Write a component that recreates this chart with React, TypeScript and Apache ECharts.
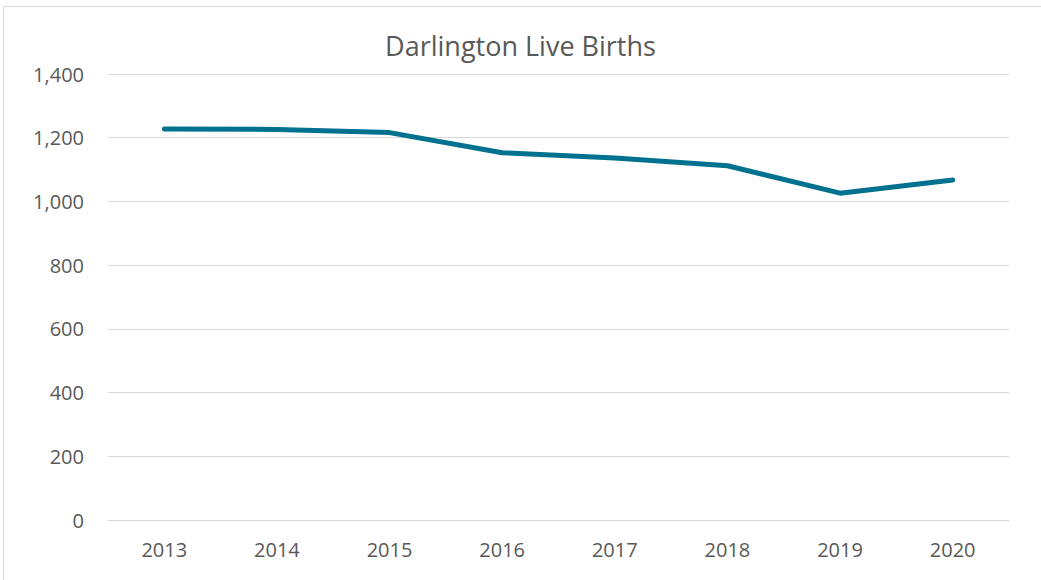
import React, { useEffect, useRef } from "react";
import * as echarts from "echarts";

const years = ["2013", "2014", "2015", "2016", "2017", "2018", "2019", "2020"];
const births = [1227, 1226, 1216, 1153, 1136, 1112, 1026, 1067];
const titleText = "Darlington Live Births";

const FONT = "Open Sans, Liberation Sans, sans-serif";

export default function App() {
  const ref = useRef<HTMLDivElement>(null);
  useEffect(() => {
    const chart = echarts.init(ref.current!, null, { renderer: "svg" });
    chart.setOption({
      animation: false,
      backgroundColor: "#ffffff",
      title: {
        text: titleText,
        left: "center",
        top: 27,
        textStyle: {
          fontFamily: FONT,
          fontSize: 27,
          fontWeight: "normal",
          color: "#595959",
        },
      },
      graphic: [
        {
          type: "rect",
          shape: { x: 3.5, y: 6.5, width: 1060, height: 600 },
          style: { fill: "none", stroke: "#d9d9d9", lineWidth: 1 },
          silent: true,
        },
      ],
      grid: { left: 108, right: 32, top: 74, bottom: 60, containLabel: false },
      xAxis: {
        type: "category",
        data: years,
        boundaryGap: true,
        axisLine: { show: true, lineStyle: { color: "#d9d9d9", width: 1 } },
        axisTick: { show: false },
        axisLabel: {
          color: "#595959",
          fontSize: 20,
          fontFamily: FONT,
          margin: 19,
        },
      },
      yAxis: {
        type: "value",
        min: 0,
        max: 1400,
        interval: 200,
        axisLine: { show: false },
        axisTick: { show: false },
        splitLine: { lineStyle: { color: "#d9d9d9", width: 1 } },
        axisLabel: {
          color: "#595959",
          fontSize: 20,
          fontFamily: FONT,
          margin: 24,
          formatter: (v: number) => v.toLocaleString("en-US"),
        },
      },
      series: [
        {
          type: "line",
          data: births,
          symbol: "none",
          lineStyle: { color: "#00718f", width: 5, cap: "round", join: "round" },
        },
      ],
    });
    return () => chart.dispose();
  }, []);
  return (
    <div
      ref={ref}
      style={{ position: "fixed", left: 0, top: 0, width: 1041, height: 580 }}
    />
  );
}
